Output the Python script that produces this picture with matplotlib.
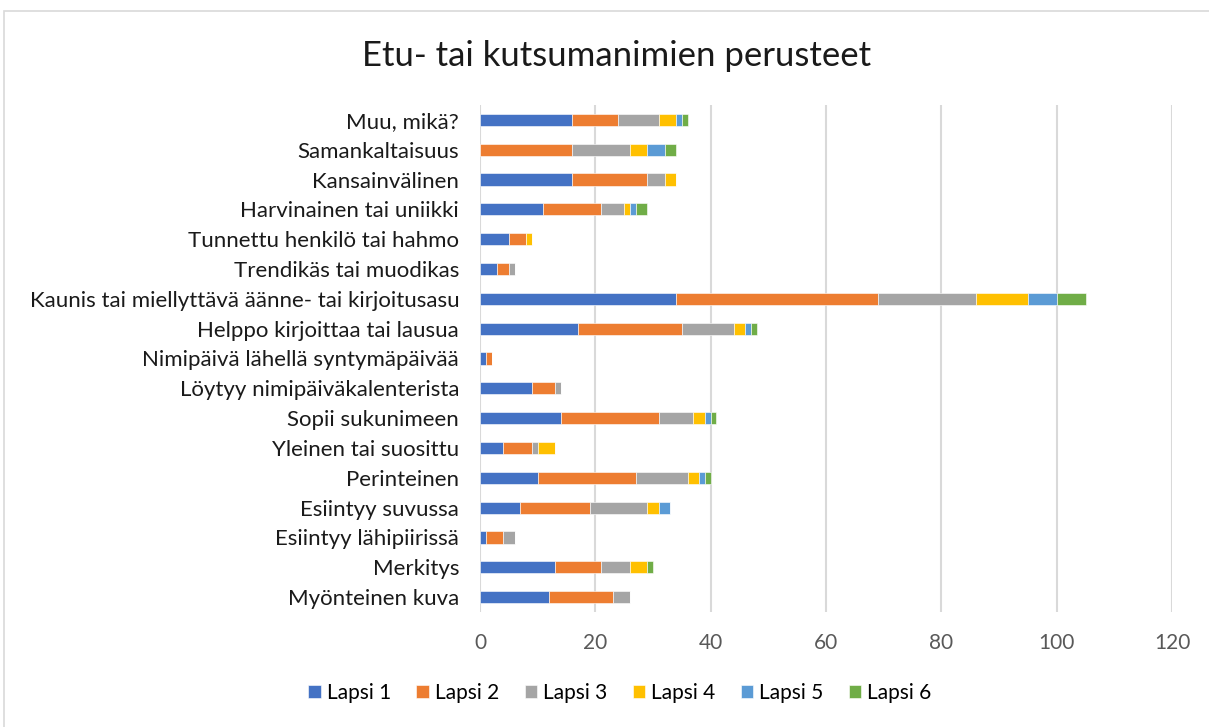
import numpy as np
import matplotlib
matplotlib.use("Agg")
import matplotlib.pyplot as plt
from matplotlib.patches import Rectangle

plt.rcParams['font.family'] = ['Lato', 'DejaVu Sans']

# categories from bottom to top
categories = [
    "Myönteinen kuva", "Merkitys", "Esiintyy lähipiirissä", "Esiintyy suvussa",
    "Perinteinen", "Yleinen tai suosittu", "Sopii sukunimeen",
    "Löytyy nimipäiväkalenterista", "Nimipäivä lähellä syntymäpäivää",
    "Helppo kirjoittaa tai lausua",
    "Kaunis tai miellyttävä äänne- tai kirjoitusasu",
    "Trendikäs tai muodikas", "Tunnettu henkilö tai hahmo",
    "Harvinainen tai uniikki", "Kansainvälinen", "Samankaltaisuus", "Muu, mikä?",
]
series_names = ["Lapsi 1", "Lapsi 2", "Lapsi 3", "Lapsi 4", "Lapsi 5", "Lapsi 6"]
lapsi1 = [12, 13, 1, 7, 10, 4, 14, 9, 1, 17, 34, 3, 5, 11, 16, 0, 16]
lapsi2 = [11, 8, 3, 12, 17, 5, 17, 4, 1, 18, 35, 2, 3, 10, 13, 16, 8]
lapsi3 = [3, 5, 2, 10, 9, 1, 6, 1, 0, 9, 17, 1, 0, 4, 3, 10, 7]
lapsi4 = [0, 3, 0, 2, 2, 3, 2, 0, 0, 2, 9, 0, 1, 1, 2, 3, 3]
lapsi5 = [0, 0, 0, 2, 1, 0, 1, 0, 0, 1, 5, 0, 0, 1, 0, 3, 1]
lapsi6 = [0, 1, 0, 0, 1, 0, 1, 0, 0, 1, 5, 0, 0, 2, 0, 2, 1]
colors = ["#4472C4", "#ED7D31", "#A5A5A5", "#FFC000", "#5B9BD5", "#70AD47"]
x_ticks = [0, 20, 40, 60, 80, 100, 120]

fig = plt.figure(figsize=(12.09, 7.27), dpi=100)
ax = fig.add_axes([480 / 1209, 1 - 612 / 727, 692 / 1209, 507 / 727])

# chart frame
fig.patches.append(Rectangle((4 / 1209, -0.01), 1.0, 1 - 11 / 727 + 0.01,
                             transform=fig.transFigure, fill=False,
                             edgecolor="#d9d9d9", lw=1.2))

y = np.arange(len(categories))
left = np.zeros(len(categories))
for name, vals, c in zip(series_names, [lapsi1, lapsi2, lapsi3, lapsi4, lapsi5, lapsi6], colors):
    vals = np.array(vals)
    ax.barh(y, vals, left=left, height=0.41, color=c, label=name,
            edgecolor="white", linewidth=0.4, zorder=3)
    left = left + vals

ax.set_xlim(0, 120)
ax.set_ylim(-0.5, len(categories) - 0.5)
ax.set_xticks(x_ticks)
ax.set_yticks(y)
ax.set_yticklabels(categories, fontsize=16, color="#1a1a1a")
ax.tick_params(axis="x", labelsize=15, colors="#595959", length=0, pad=15)
ax.tick_params(axis="y", length=0, pad=15)
ax.xaxis.grid(True, color="#d9d9d9", lw=1.5, zorder=0)
for s in ax.spines.values():
    s.set_visible(False)

fig.text(617 / 1209, 1 - 56 / 727, "Etu- tai kutsumanimien perusteet",
         ha="center", va="center", fontsize=25, color="#1a1a1a")

fig.legend(loc="center", bbox_to_anchor=(620 / 1209, 1 - 693 / 727), ncol=6,
           frameon=False, fontsize=15, handlelength=0.6, handleheight=0.6,
           handletextpad=0.3, columnspacing=1.2)

fig.savefig("out.png", dpi=100)
